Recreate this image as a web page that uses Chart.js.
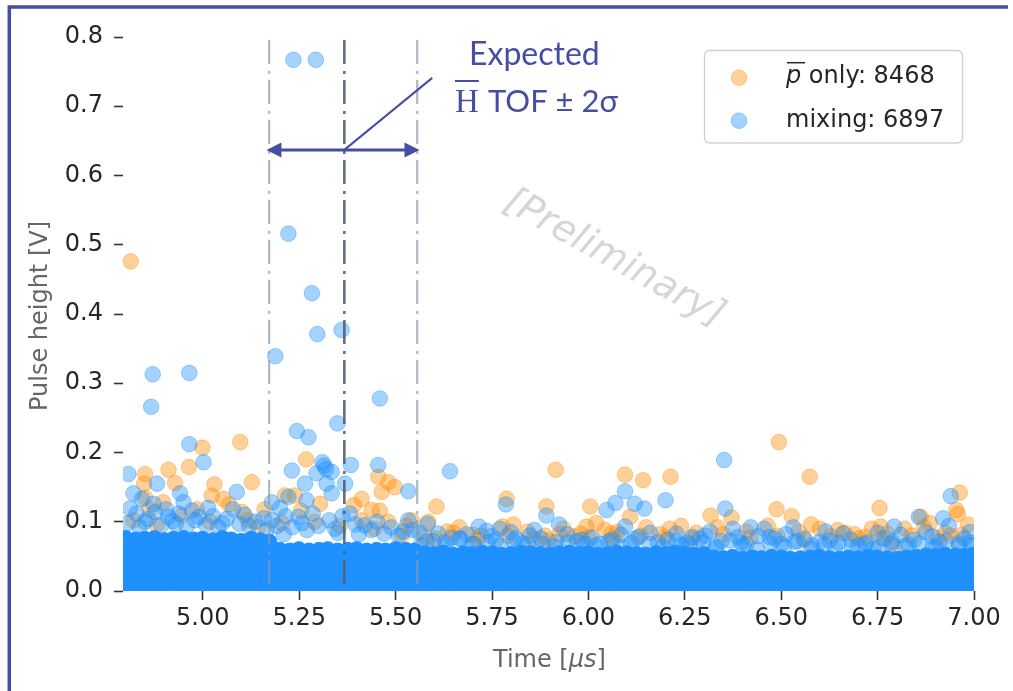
<!DOCTYPE html>
<html>
<head>
<meta charset="utf-8">
<script src="https://cdn.jsdelivr.net/npm/chart.js@4.4.1/dist/chart.umd.min.js"></script>
<style>
  html, body { margin: 0; padding: 0; background: #fff; }
  canvas { display: block; }
</style>
</head>
<body>
<canvas id="tofChart" width="1013" height="691"></canvas>
<script>
// axis ticks
const xTicks = [5.00, 5.25, 5.50, 5.75, 6.00, 6.25, 6.50, 6.75, 7.00];
const yTicks = [0.0, 0.1, 0.2, 0.3, 0.4, 0.5, 0.6, 0.7, 0.8];

// expected H TOF window: -2 sigma, centre, +2 sigma
const windowLines = [5.172, 5.367, 5.556];

const counts = [8468, 6897];

// pbar only: hits standing out of the dense low band
const panTime = [4.813, 4.999, 5.097, 5.268, 4.850, 4.911, 4.964, 4.848, 4.928, 5.030,
  5.127, 5.023, 5.053, 5.118, 5.144, 5.455, 5.481, 5.498, 5.464, 5.213,
  5.239, 5.412, 5.304, 5.438, 5.459, 5.412, 5.481, 5.516, 5.915, 6.095,
  6.142, 6.213, 5.606, 5.788, 5.891, 6.005, 6.108, 5.995, 5.585, 5.542,
  5.777, 6.043, 6.060, 5.980, 6.211, 5.887, 5.896, 5.602, 5.700, 6.494,
  6.574, 6.963, 6.317, 6.371, 6.488, 6.527, 6.578, 6.755, 6.758, 6.862,
  6.870, 6.958, 6.954, 6.940, 6.647, 6.717, 6.700, 6.794, 4.880, 4.850];
const panHeight = [0.476, 0.207, 0.215, 0.190, 0.169, 0.175, 0.179, 0.155, 0.156, 0.154,
  0.157, 0.138, 0.133, 0.102, 0.092, 0.165, 0.157, 0.150, 0.143, 0.138,
  0.138, 0.133, 0.126, 0.117, 0.116, 0.102, 0.100, 0.080, 0.175, 0.168,
  0.160, 0.165, 0.122, 0.133, 0.122, 0.122, 0.107, 0.093, 0.100, 0.102,
  0.093, 0.088, 0.083, 0.083, 0.090, 0.080, 0.073, 0.076, 0.081, 0.215,
  0.165, 0.142, 0.109, 0.106, 0.118, 0.108, 0.096, 0.120, 0.093, 0.107,
  0.092, 0.111, 0.117, 0.080, 0.088, 0.078, 0.076, 0.065, 0.095, 0.135];
// pbar only: hits on the upper fringe of the band
const panFringeT = [4.820, 4.862, 4.897, 4.945, 4.985, 5.018, 5.068, 5.102, 5.160, 5.205,
  5.255, 5.290, 5.355, 5.392, 5.445, 5.528, 5.635, 5.665, 5.722, 5.805,
  5.842, 5.935, 5.965, 6.020, 6.075, 6.150, 6.185, 6.240, 6.280, 6.335,
  6.410, 6.465, 6.545, 6.600, 6.665, 6.735, 6.775, 6.820, 6.885, 6.925,
  6.985, 5.578, 5.650, 5.712, 5.790, 5.858, 5.925, 6.000, 6.065, 6.135,
  6.200, 6.268, 6.350, 6.420, 6.490, 6.560, 6.630, 6.690, 6.760, 6.838,
  6.905, 6.968];
const panFringeV = [0.102, 0.118, 0.128, 0.109, 0.118, 0.100, 0.125, 0.114, 0.118, 0.098,
  0.116, 0.100, 0.094, 0.124, 0.090, 0.094, 0.086, 0.092, 0.080, 0.096,
  0.086, 0.090, 0.079, 0.098, 0.085, 0.092, 0.082, 0.094, 0.084, 0.092,
  0.086, 0.094, 0.086, 0.090, 0.084, 0.090, 0.083, 0.090, 0.098, 0.084,
  0.096, 0.078, 0.084, 0.074, 0.080, 0.076, 0.082, 0.078, 0.075, 0.080,
  0.078, 0.076, 0.082, 0.077, 0.080, 0.074, 0.079, 0.082, 0.076, 0.080,
  0.077, 0.081];

// mixing: hits standing out of the dense low band
const mixTime = [5.235, 5.293, 5.222, 5.283, 5.297, 5.360, 5.188, 4.870, 4.965, 4.866,
  5.459, 5.244, 5.274, 5.349, 4.965, 5.002, 5.315, 5.384, 5.455, 4.807,
  5.231, 5.334, 5.295, 5.265, 5.321, 5.369, 5.533, 5.334, 5.222, 5.269,
  5.179, 5.200, 5.381, 5.248, 5.420, 5.533, 5.179, 4.881, 4.820, 4.941,
  5.088, 4.842, 4.950, 5.014, 4.811, 4.876, 4.911, 4.980, 5.320, 5.310,
  5.641, 5.786, 5.891, 6.070, 6.047, 6.120, 6.145, 6.095, 6.200, 5.924,
  5.716, 5.736, 5.770, 5.799, 6.095, 6.008, 6.129, 6.228, 5.645, 5.667,
  5.848, 5.917, 6.269, 6.289, 5.583, 6.352, 6.355, 6.531, 6.421, 6.456,
  6.470, 6.483, 6.535, 6.793, 6.857, 6.891, 6.920, 6.940, 6.989, 6.660,
  6.626, 6.768, 6.302, 6.388, 5.580, 5.700, 5.760, 5.830, 5.970, 6.030,
  6.180, 6.240, 6.330, 6.410, 6.580, 6.640, 6.700, 6.740, 6.830, 6.900,
  6.960, 5.470, 5.520, 5.350, 5.270, 5.210, 5.120, 5.050, 4.930, 4.850];
const mixHeight = [0.767, 0.767, 0.516, 0.430, 0.371, 0.377, 0.339, 0.313, 0.315, 0.266,
  0.278, 0.231, 0.222, 0.242, 0.212, 0.186, 0.181, 0.182, 0.182, 0.169,
  0.174, 0.172, 0.170, 0.155, 0.155, 0.155, 0.144, 0.141, 0.136, 0.131,
  0.128, 0.120, 0.112, 0.107, 0.095, 0.102, 0.102, 0.155, 0.141, 0.141,
  0.143, 0.133, 0.128, 0.120, 0.119, 0.114, 0.107, 0.102, 0.176, 0.186,
  0.173, 0.125, 0.109, 0.127, 0.117, 0.126, 0.119, 0.144, 0.131, 0.096,
  0.093, 0.087, 0.090, 0.085, 0.093, 0.077, 0.078, 0.083, 0.077, 0.076,
  0.080, 0.071, 0.078, 0.076, 0.097, 0.189, 0.119, 0.092, 0.092, 0.090,
  0.078, 0.076, 0.071, 0.093, 0.107, 0.079, 0.105, 0.137, 0.085, 0.083,
  0.073, 0.076, 0.080, 0.078, 0.072, 0.068, 0.074, 0.069, 0.072, 0.068,
  0.070, 0.066, 0.064, 0.068, 0.066, 0.062, 0.066, 0.061, 0.067, 0.064,
  0.069, 0.083, 0.086, 0.084, 0.088, 0.082, 0.094, 0.098, 0.097, 0.100];
// mixing: hits on the upper fringe of the band
const mixFringeT = [4.805, 4.828, 4.836, 4.858, 4.872, 4.892, 4.905, 4.922, 4.938, 4.958,
  4.972, 4.990, 5.008, 5.026, 5.040, 5.062, 5.078, 5.095, 5.108, 5.136,
  5.158, 5.166, 5.192, 5.215, 5.232, 5.258, 5.285, 5.300, 5.328, 5.343,
  5.362, 5.396, 5.405, 5.437, 5.452, 5.488, 5.507, 5.545, 5.562, 5.610,
  5.628, 5.685, 5.748, 5.812, 5.860, 5.880, 5.945, 5.990, 6.060, 6.085,
  6.110, 6.160, 6.205, 6.255, 6.315, 6.345, 6.375, 6.395, 6.440, 6.500,
  6.512, 6.560, 6.600, 6.615, 6.680, 6.720, 6.750, 6.785, 6.810, 6.845,
  6.875, 6.910, 6.935, 6.975, 6.995, 5.565, 5.598, 5.632, 5.668, 5.703,
  5.738, 5.772, 5.805, 5.842, 5.877, 5.912, 5.948, 5.983, 6.018, 6.052,
  6.088, 6.122, 6.158, 6.193, 6.228, 6.262, 6.298, 6.332, 6.368, 6.402,
  6.437, 6.472, 6.508, 6.543, 6.578, 6.612, 6.648, 6.683, 6.718, 6.752,
  6.788, 6.822, 6.858, 6.893, 6.928, 6.962, 6.990];
const mixFringeV = [0.098, 0.112, 0.092, 0.104, 0.126, 0.095, 0.118, 0.101, 0.112, 0.094,
  0.116, 0.107, 0.096, 0.108, 0.092, 0.104, 0.118, 0.097, 0.110, 0.100,
  0.105, 0.088, 0.094, 0.108, 0.092, 0.098, 0.112, 0.094, 0.102, 0.090,
  0.108, 0.096, 0.082, 0.088, 0.100, 0.092, 0.080, 0.088, 0.084, 0.083,
  0.070, 0.082, 0.079, 0.076, 0.088, 0.068, 0.082, 0.068, 0.074, 0.081,
  0.069, 0.084, 0.074, 0.070, 0.086, 0.072, 0.090, 0.070, 0.079, 0.068,
  0.082, 0.076, 0.071, 0.086, 0.074, 0.070, 0.084, 0.068, 0.081, 0.074,
  0.085, 0.071, 0.094, 0.076, 0.066, 0.066, 0.072, 0.064, 0.075, 0.068,
  0.071, 0.065, 0.073, 0.067, 0.076, 0.064, 0.070, 0.074, 0.066, 0.071,
  0.063, 0.075, 0.068, 0.064, 0.072, 0.067, 0.070, 0.062, 0.073, 0.066,
  0.060, 0.069, 0.064, 0.072, 0.061, 0.067, 0.070, 0.063, 0.068, 0.062,
  0.071, 0.065, 0.069, 0.063, 0.072, 0.066, 0.070];

// dense low band of the mixing run (thousands of overlapping hits)
const coreT = [4.798, 4.824, 4.851, 4.874, 4.899, 4.926, 4.950, 4.975, 5.001, 5.024,
  5.050, 5.076, 5.099, 5.125, 5.151, 5.174, 5.200, 5.226, 5.249, 5.275,
  5.301, 5.324, 5.350, 5.376, 5.399, 5.425, 5.451, 5.474, 5.500, 5.526,
  5.549, 5.575, 5.601, 5.624, 5.650, 5.676, 5.699, 5.725, 5.751, 5.774,
  5.800, 5.826, 5.849, 5.875, 5.901, 5.924, 5.950, 5.976, 5.999, 6.025,
  6.051, 6.074, 6.100, 6.126, 6.149, 6.175, 6.201, 6.224, 6.250, 6.276,
  6.299, 6.325, 6.351, 6.374, 6.400, 6.426, 6.449, 6.475, 6.501, 6.524,
  6.550, 6.576, 6.599, 6.625, 6.651, 6.674, 6.700, 6.726, 6.749, 6.775,
  6.801, 6.824, 6.850, 6.876, 6.899, 6.925, 6.951, 6.974, 6.997];
const coreA = [0.008, 0.010, 0.007, 0.009, 0.008, 0.011, 0.007, 0.009, 0.008, 0.010,
  0.007, 0.009, 0.008, 0.010, 0.009, 0.007, 0.008, 0.010, 0.009, 0.008,
  0.007, 0.009, 0.010, 0.008, 0.009, 0.007, 0.008, 0.010, 0.009, 0.008,
  0.010, 0.007, 0.009, 0.008, 0.010, 0.009, 0.007, 0.008, 0.009, 0.010,
  0.008, 0.007, 0.009, 0.010, 0.008, 0.009, 0.007, 0.008, 0.010, 0.009,
  0.008, 0.010, 0.007, 0.009, 0.008, 0.009, 0.010, 0.007, 0.008, 0.009,
  0.010, 0.008, 0.007, 0.009, 0.008, 0.010, 0.009, 0.007, 0.008, 0.009,
  0.010, 0.008, 0.009, 0.007, 0.008, 0.010, 0.009, 0.008, 0.007, 0.009,
  0.008, 0.010, 0.009, 0.007, 0.008, 0.009, 0.010, 0.008, 0.009];
const coreB = [0.025, 0.024, 0.026, 0.025, 0.027, 0.024, 0.025, 0.026, 0.024, 0.025,
  0.026, 0.025, 0.024, 0.027, 0.025, 0.026, 0.024, 0.025, 0.026, 0.025,
  0.024, 0.026, 0.025, 0.027, 0.024, 0.025, 0.026, 0.025, 0.024, 0.026,
  0.025, 0.027, 0.024, 0.025, 0.026, 0.024, 0.025, 0.026, 0.025, 0.024,
  0.026, 0.025, 0.027, 0.024, 0.025, 0.026, 0.025, 0.024, 0.026, 0.025,
  0.024, 0.025, 0.026, 0.025, 0.027, 0.024, 0.025, 0.026, 0.024, 0.025,
  0.026, 0.025, 0.024, 0.026, 0.025, 0.027, 0.024, 0.025, 0.026, 0.025,
  0.024, 0.026, 0.025, 0.024, 0.027, 0.025, 0.026, 0.024, 0.025, 0.026,
  0.025, 0.024, 0.026, 0.025, 0.027, 0.024, 0.025, 0.026, 0.025];
const coreC = [0.042, 0.041, 0.043, 0.040, 0.042, 0.041, 0.043, 0.042, 0.040, 0.041,
  0.043, 0.042, 0.041, 0.040, 0.042, 0.043, 0.041, 0.042, 0.040, 0.041,
  0.042, 0.043, 0.041, 0.040, 0.042, 0.041, 0.043, 0.042, 0.041, 0.040,
  0.042, 0.041, 0.043, 0.042, 0.040, 0.041, 0.042, 0.043, 0.041, 0.042,
  0.040, 0.041, 0.043, 0.042, 0.041, 0.040, 0.042, 0.043, 0.041, 0.042,
  0.041, 0.040, 0.042, 0.043, 0.041, 0.042, 0.040, 0.041, 0.043, 0.042,
  0.041, 0.040, 0.042, 0.041, 0.043, 0.042, 0.041, 0.040, 0.042, 0.041,
  0.043, 0.042, 0.040, 0.041, 0.042, 0.043, 0.041, 0.040, 0.042, 0.041,
  0.043, 0.042, 0.041, 0.040, 0.042, 0.041, 0.043, 0.042, 0.041];
const coreD = [0.058, 0.057, 0.059, 0.058, 0.057, 0.058, 0.059, 0.057, 0.058, 0.059,
  0.058, 0.057, 0.058, 0.059, 0.057, 0.058, 0.059, 0.058, 0.060, 0.058,
  0.059, 0.060, 0.058, 0.059, 0.060, 0.058, 0.059, 0.058, 0.060, 0.059,
  0.058, 0.054, 0.053, 0.055, 0.052, 0.054, 0.053, 0.055, 0.054, 0.052,
  0.053, 0.055, 0.054, 0.053, 0.052, 0.054, 0.055, 0.053, 0.054, 0.052,
  0.053, 0.055, 0.054, 0.053, 0.052, 0.054, 0.053, 0.055, 0.054, 0.052,
  0.053, 0.048, 0.047, 0.049, 0.046, 0.048, 0.047, 0.049, 0.048, 0.046,
  0.047, 0.048, 0.049, 0.047, 0.046, 0.048, 0.047, 0.049, 0.048, 0.047,
  0.046, 0.048, 0.049, 0.051, 0.050, 0.052, 0.051, 0.050, 0.052];
const capT = [4.800, 4.826, 4.849, 4.875, 4.901, 4.924, 4.950, 4.976, 4.999, 5.025,
  5.051, 5.074, 5.100, 5.126, 5.149, 5.172];
const capV = [0.076, 0.074, 0.075, 0.076, 0.073, 0.075, 0.076, 0.074, 0.075, 0.073,
  0.076, 0.074, 0.072, 0.075, 0.073, 0.071];

const BLUE = 'rgb(30,144,255)';
const BLUE_A = 'rgba(30,144,255,0.4)';
const ORANGE_A = 'rgba(255,140,0,0.4)';
const INK = '#454ea3';

function toPoints(ts, vs) {
  return ts.map((t, i) => ({x: t, y: vs[i]}));
}

const band = [].concat(
  toPoints(coreT, coreA), toPoints(coreT, coreB), toPoints(coreT, coreC),
  toPoints(coreT, coreD), toPoints(capT, capV));
const mixing = band.concat(toPoints(mixFringeT, mixFringeV), toPoints(mixTime, mixHeight));
const mixColors = mixing.map((p, i) => i < band.length ? BLUE : BLUE_A);
const pbarOnly = toPoints(panFringeT, panFringeV).concat(toPoints(panTime, panHeight));

const overlay = {
  id: 'overlay',
  afterDatasetsDraw(chart) {
    const {ctx, chartArea, scales: {x, y}} = chart;

    // dash-dot window lines
    windowLines.forEach((t, i) => {
      const px = x.getPixelForValue(t);
      ctx.save();
      ctx.strokeStyle = i === 1 ? 'rgba(80,96,114,0.9)' : 'rgba(140,154,168,0.7)';
      ctx.lineWidth = i === 1 ? 2.6 : 2.2;
      ctx.setLineDash([24, 7, 3, 6]);
      ctx.beginPath();
      ctx.moveTo(px, chartArea.top + 3);
      ctx.lineTo(px, chartArea.bottom);
      ctx.stroke();
      ctx.restore();
    });

    // double arrow across the window + pointer to the label
    const ay = y.getPixelForValue(0.637);
    const ax0 = x.getPixelForValue(5.165);
    const ax1 = x.getPixelForValue(5.562);
    const axm = x.getPixelForValue(windowLines[1]);
    ctx.save();
    ctx.strokeStyle = INK;
    ctx.fillStyle = INK;
    ctx.lineWidth = 3;
    ctx.beginPath();
    ctx.moveTo(ax0 + 8, ay);
    ctx.lineTo(ax1 - 8, ay);
    ctx.stroke();
    ctx.beginPath();
    ctx.moveTo(ax0, ay); ctx.lineTo(ax0 + 15, ay - 7.5); ctx.lineTo(ax0 + 15, ay + 7.5);
    ctx.closePath(); ctx.fill();
    ctx.beginPath();
    ctx.moveTo(ax1, ay); ctx.lineTo(ax1 - 15, ay - 7.5); ctx.lineTo(ax1 - 15, ay + 7.5);
    ctx.closePath(); ctx.fill();
    ctx.lineWidth = 2;
    ctx.beginPath();
    ctx.moveTo(axm, ay);
    ctx.lineTo(x.getPixelForValue(5.595), y.getPixelForValue(0.741));
    ctx.stroke();

    // label
    ctx.textBaseline = 'alphabetic';
    ctx.textAlign = 'left';
    ctx.font = '32px Lato';
    ctx.fillText('Expected', 469, 65);
    ctx.font = '33px "Liberation Serif"';
    ctx.fillText('H', 455, 112);
    const hw = ctx.measureText('H').width;
    ctx.lineWidth = 2;
    ctx.beginPath();
    ctx.moveTo(455, 81);
    ctx.lineTo(455 + hw, 81);
    ctx.stroke();
    ctx.font = '31px Lato';
    ctx.fillText('TOF \u00b1 2\u03c3', 488, 112);
    ctx.restore();

    // watermark
    ctx.save();
    ctx.translate(614, 259);
    ctx.rotate(29 * Math.PI / 180);
    ctx.font = 'italic 38px "DejaVu Sans"';
    ctx.fillStyle = '#d6d6d6';
    ctx.textAlign = 'center';
    ctx.textBaseline = 'middle';
    ctx.fillText('[Preliminary]', 0, 0);
    ctx.restore();

    // legend
    ctx.save();
    ctx.beginPath();
    ctx.roundRect(704.5, 50.5, 258, 92.5, 5);
    ctx.fillStyle = 'rgba(255,255,255,0.85)';
    ctx.fill();
    ctx.strokeStyle = '#d0d0d0';
    ctx.lineWidth = 1.3;
    ctx.stroke();
    [[ORANGE_A, 77.7], [BLUE_A, 120.7]].forEach(([c, cy]) => {
      ctx.beginPath();
      ctx.arc(739, cy, 7.8, 0, Math.PI * 2);
      ctx.fillStyle = c;
      ctx.strokeStyle = c;
      ctx.lineWidth = 1;
      ctx.fill();
      ctx.stroke();
    });
    ctx.fillStyle = '#262626';
    ctx.strokeStyle = '#262626';
    ctx.textBaseline = 'alphabetic';
    ctx.font = 'italic 24px "DejaVu Sans"';
    ctx.fillText('p', 786, 83);
    const pw = ctx.measureText('p').width;
    ctx.lineWidth = 1.5;
    ctx.beginPath();
    ctx.moveTo(787, 62.7);
    ctx.lineTo(805, 62.7);
    ctx.stroke();
    ctx.font = '24px "DejaVu Sans"';
    ctx.fillText(' only: ' + counts[0], 786 + pw, 83);
    ctx.fillText('mixing: ' + counts[1], 786, 127);
    ctx.restore();

    // axis titles
    ctx.save();
    ctx.fillStyle = '#666';
    ctx.font = '24px "DejaVu Sans"';
    ctx.textBaseline = 'alphabetic';
    let tx = 493;
    ctx.fillText('Time [', tx, 667);
    tx += ctx.measureText('Time [').width;
    ctx.font = 'italic 24px "DejaVu Sans"';
    ctx.fillText('\u03bcs', tx, 667);
    tx += ctx.measureText('\u03bcs').width;
    ctx.font = '24px "DejaVu Sans"';
    ctx.fillText(']', tx, 667);
    ctx.translate(47, 316);
    ctx.rotate(-Math.PI / 2);
    ctx.textAlign = 'center';
    ctx.fillText('Pulse height [V]', 0, 0);
    ctx.restore();
  },
  afterDraw(chart) {
    const {ctx} = chart;
    ctx.save();
    ctx.strokeStyle = INK;
    ctx.lineWidth = 3.5;
    ctx.beginPath();
    ctx.moveTo(9.3, 691);
    ctx.lineTo(9.3, 7);
    ctx.lineTo(1008, 7);
    ctx.stroke();
    ctx.restore();
  }
};

const tickFont = {family: 'DejaVu Sans', size: 24};

new Chart('tofChart', {
  type: 'scatter',
  data: {
    datasets: [{
      label: 'pbar only',
      data: pbarOnly,
      pointBackgroundColor: ORANGE_A,
      pointBorderColor: ORANGE_A,
      pointBorderWidth: 1,
      pointRadius: 7.8,
      order: 2,
      clip: 0
    }, {
      label: 'mixing',
      data: mixing,
      pointBackgroundColor: mixColors,
      pointBorderColor: mixColors,
      pointBorderWidth: 1,
      pointRadius: 7.8,
      order: 1,
      clip: 0
    }]
  },
  options: {
    responsive: false,
    animation: false,
    events: [],
    layout: {padding: {top: 37, right: 39, left: 0, bottom: 0}},
    plugins: {legend: {display: false}, tooltip: {enabled: false}},
    scales: {
      x: {
        type: 'linear',
        min: 4.793,
        max: 7.0,
        afterFit: s => { s.height = 100; },
        afterBuildTicks: s => { s.ticks = xTicks.map(v => ({value: v})); },
        grid: {drawOnChartArea: false, tickLength: 9, tickWidth: 1.6, tickColor: '#333'},
        border: {display: false},
        ticks: {padding: 4, color: '#262626', font: tickFont, maxRotation: 0, callback: v => v.toFixed(2)}
      },
      y: {
        min: 0,
        max: 0.8,
        afterFit: s => { s.width = 123; },
        afterBuildTicks: s => { s.ticks = yTicks.map(v => ({value: v})); },
        grid: {drawOnChartArea: false, tickLength: 9, tickWidth: 1.6, tickColor: '#333'},
        border: {display: false},
        ticks: {padding: 11, color: '#262626', font: tickFont, callback: v => v.toFixed(1)}
      }
    }
  },
  plugins: [overlay]
});
</script>
</body>
</html>
